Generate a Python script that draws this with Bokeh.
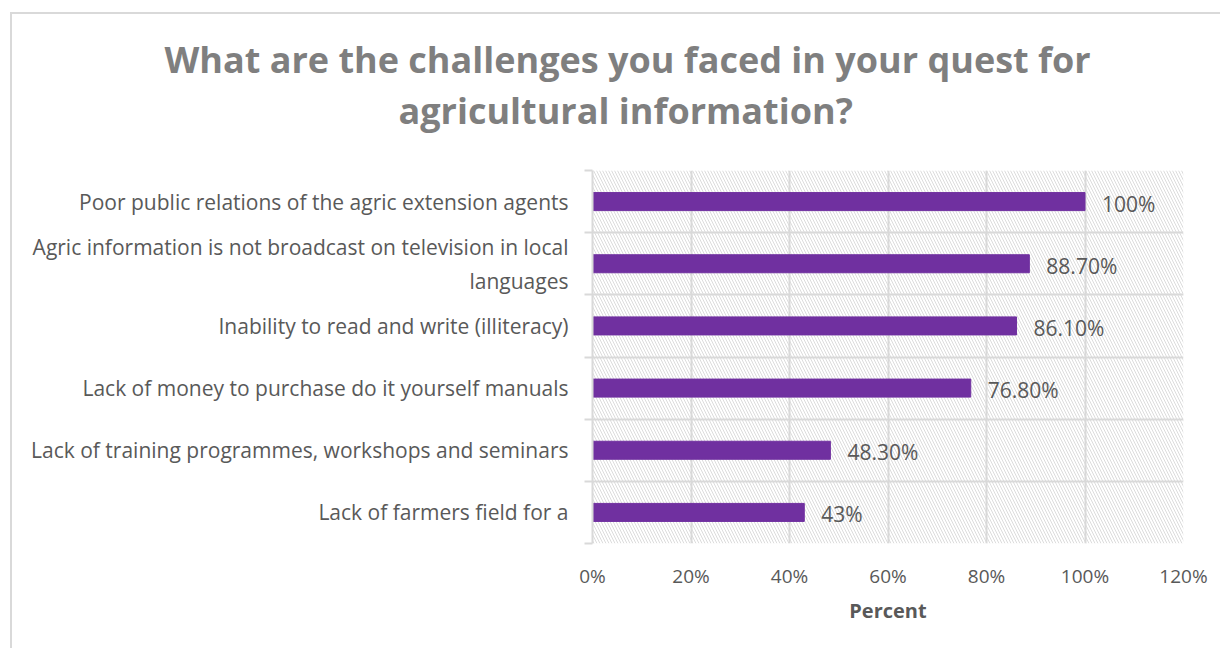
from bokeh.plotting import figure
from bokeh.models import (FixedTicker, NumeralTickFormatter, BoxAnnotation, Title,
                          ColumnDataSource)
from bokeh.core.properties import value
from bokeh.embed import file_html
from bokeh.resources import INLINE

title_lines = ["What are the challenges you faced in your quest for", "agricultural information?"]
categories = [
    "Poor public relations of the agric extension agents",
    "Agric information is not broadcast on television in local\nlanguages",
    "Inability to read and write (illiteracy)",
    "Lack of money to purchase do it yourself manuals",
    "Lack of training programmes, workshops and seminars",
    "Lack of farmers field for a",
]
percent = [1.00, 0.887, 0.861, 0.768, 0.483, 0.43]
data_labels = ["100%", "88.70%", "86.10%", "76.80%", "48.30%", "43%"]
x_ticks = [0, 0.2, 0.4, 0.6, 0.8, 1.0, 1.2]
x_label = "Percent"

FONT = "Open Sans"
TXT = "#595959"
GRID = "#d9d9d9"

n = len(categories)
ypos = [n - 0.5 - i for i in range(n)]
src = ColumnDataSource(dict(y=ypos, pct=percent, lab=data_labels))

p = figure(width=1210, height=636, x_range=(0, 1.2), y_range=(0, n),
           output_backend="svg", toolbar_location=None, title=None,
           min_border_left=580, min_border_right=39,
           min_border_top=156, min_border_bottom=107)
p.outline_line_color = None
p.background_fill_color = "white"
p.styles = {"border-left": "2px solid #d9d9d9", "border-top": "2px solid #d9d9d9",
            "margin-left": "10px", "margin-top": "12px"}

hatch = BoxAnnotation(fill_color=None, line_color=None, hatch_pattern="\\",
                      hatch_color="#dcdcdc", hatch_scale=6, hatch_weight=1, level="image")
p.add_layout(hatch)

p.hbar(y="y", left=0, right="pct", height=0.29, color="#7030a0", source=src)
p.text(x="pct", y="y", text="lab", x_offset=17, y_offset=2, text_baseline="middle",
       text_font=value(FONT), text_font_size="21px", text_color=TXT, source=src)

# x axis
xa = p.xaxis[0]
xa.ticker = FixedTicker(ticks=x_ticks)
xa.formatter = NumeralTickFormatter(format="0%")
xa.axis_line_color = None
xa.major_tick_line_color = None
xa.minor_tick_line_color = None
xa.major_tick_out = 0
xa.major_label_standoff = 19
xa.major_label_text_font = FONT
xa.major_label_text_font_size = "19px"
xa.major_label_text_color = TXT
xa.axis_label = x_label
xa.axis_label_text_font = FONT
xa.axis_label_text_font_style = "bold"
xa.axis_label_text_font_size = "20px"
xa.axis_label_text_color = TXT
xa.axis_label_standoff = 5

# y axis
ya = p.yaxis[0]
ya.ticker = FixedTicker(ticks=ypos, minor_ticks=list(range(n + 1)))
ya.major_label_overrides = {y: c for y, c in zip(ypos, categories)}
ya.major_tick_line_color = None
ya.major_tick_out = 0
ya.major_tick_in = 0
ya.minor_tick_line_color = GRID
ya.minor_tick_line_width = 2
ya.minor_tick_out = 8
ya.minor_tick_in = 0
ya.axis_line_color = GRID
ya.axis_line_width = 2
ya.major_label_standoff = 16
ya.major_label_text_font = FONT
ya.major_label_text_font_size = "21px"
ya.major_label_text_color = TXT

p.xgrid.ticker = FixedTicker(ticks=x_ticks)
p.xgrid.grid_line_color = GRID
p.xgrid.grid_line_width = 2
p.ygrid.grid_line_color = None
p.ygrid.minor_grid_line_color = GRID
p.ygrid.minor_grid_line_width = 2

# blank gap between the plot area and the title
gap = Title(text=" ", standoff=20, text_font=FONT, text_font_size="10px")
p.add_layout(gap, "above")

t2 = Title(text=title_lines[1], align="left", offset=-194, standoff=0,
           text_font=FONT, text_font_size="36px", text_font_style="bold", text_color="#7f7f7f")
t1 = Title(text=title_lines[0], align="left", offset=-428, standoff=0,
           text_font=FONT, text_font_size="36px", text_font_style="bold", text_color="#7f7f7f")
p.add_layout(t2, "above")
p.add_layout(t1, "above")

open("out.html", "w").write(file_html(p, INLINE))
